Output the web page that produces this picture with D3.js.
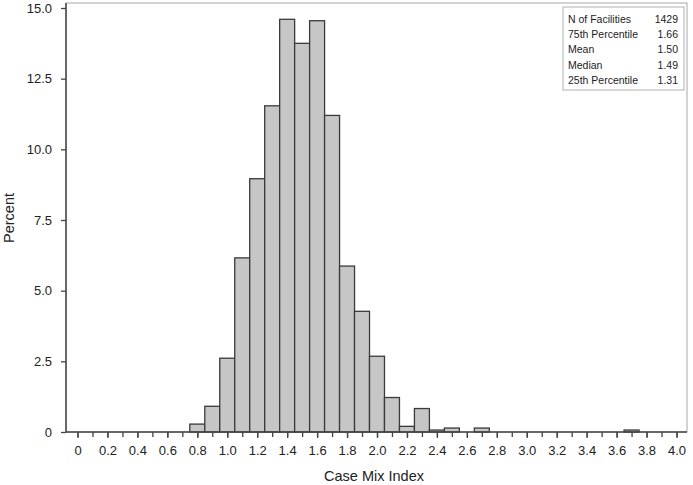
<!DOCTYPE html>
<html>
<head>
<meta charset="utf-8">
<script src="https://cdn.jsdelivr.net/npm/d3@7"></script>
<style>
  body { margin: 0; background: #fff; }
  svg { display: block; font-family: Arial, "Liberation Sans", sans-serif; }
</style>
</head>
<body>
<div id="chart"></div>
<script>
// Histogram of case mix index: bin midpoints (width 0.1) and percent of facilities
var binMids = [0.8, 0.9, 1.0, 1.1, 1.2, 1.3, 1.4, 1.5, 1.6, 1.7, 1.8, 1.9, 2.0, 2.1, 2.2, 2.3, 2.4, 2.5, 2.7, 3.7];
var percents = [0.28, 0.91, 2.61, 6.16, 8.96, 11.54, 14.6, 13.75, 14.55, 11.2, 5.87, 4.27, 2.68, 1.22, 0.2, 0.83, 0.07, 0.14, 0.14, 0.07];
var binWidth = 0.1;

var xTicks = d3.range(0, 41, 2).map(function(d) { return d / 10; });
var xMinorTicks = d3.range(0, 41, 1).map(function(d) { return d / 10; });
var yTicks = [0, 2.5, 5, 7.5, 10, 12.5, 15];

var statLabels = ['N of Facilities', '75th Percentile', 'Mean', 'Median', '25th Percentile'];
var statValues = ['1429', '1.66', '1.50', '1.49', '1.31'];

var width = 693, height = 485;
var frame = { left: 66, top: 3, right: 687, bottom: 432 };

var svg = d3.select('#chart').append('svg')
    .attr('width', width)
    .attr('height', height);

var x = d3.scaleLinear().domain([0, 4]).range([77.5, 676.5]);
var y = d3.scaleLinear().domain([0, 15]).range([frame.bottom, 8]);

// Frame (light on top/right)
svg.append('rect')
    .attr('x', frame.left)
    .attr('y', frame.top)
    .attr('width', frame.right - frame.left)
    .attr('height', frame.bottom - frame.top)
    .attr('fill', 'none')
    .attr('stroke', '#a8a8a8')
    .attr('stroke-width', 1);

// Bars
svg.append('g')
    .selectAll('rect')
    .data(binMids)
    .enter()
    .append('rect')
    .attr('x', function(d) { return x(d - binWidth / 2); })
    .attr('width', function(d) { return x(d + binWidth / 2) - x(d - binWidth / 2); })
    .attr('y', function(d, i) { return y(percents[i]); })
    .attr('height', function(d, i) { return y(0) - y(percents[i]); })
    .attr('fill', '#c6c6c6')
    .attr('stroke', '#3a3a3a')
    .attr('stroke-width', 1.3);

// Y axis
var yAxis = d3.axisLeft(y)
    .tickValues(yTicks)
    .tickSize(5)
    .tickPadding(9)
    .tickFormat(function(d) { return d === 0 ? '0' : d3.format('.1f')(d); });

var yg = svg.append('g')
    .attr('transform', 'translate(' + frame.left + ',0)')
    .call(yAxis);
yg.select('.domain').remove();
yg.append('line')
    .attr('x1', 0).attr('x2', 0)
    .attr('y1', frame.top).attr('y2', frame.bottom)
    .attr('stroke', '#444').attr('stroke-width', 1.5);

// X axis (minor ticks every 0.1, labels every 0.2)
var xMinor = svg.append('g')
    .attr('transform', 'translate(0,' + frame.bottom + ')')
    .call(d3.axisBottom(x).tickValues(xMinorTicks).tickSize(5).tickFormat(''));
xMinor.select('.domain').remove();

var xAxis = d3.axisBottom(x)
    .tickValues(xTicks)
    .tickSize(6)
    .tickPadding(8)
    .tickFormat(function(d) { return d === 0 ? '0' : d3.format('.1f')(d); });

var xg = svg.append('g')
    .attr('transform', 'translate(0,' + frame.bottom + ')')
    .call(xAxis);
xg.select('.domain').remove();
xg.append('line')
    .attr('x1', frame.left).attr('x2', frame.right)
    .attr('y1', 0).attr('y2', 0)
    .attr('stroke', '#444').attr('stroke-width', 1.5);

svg.selectAll('.tick line').attr('stroke', '#444').attr('stroke-width', 1.3);
svg.selectAll('.tick text')
    .attr('fill', '#222')
    .style('font-size', '13px')
    .style('font-family', 'Arial, "Liberation Sans", sans-serif');

// Axis titles
svg.append('text')
    .attr('x', 374)
    .attr('y', 481)
    .attr('text-anchor', 'middle')
    .attr('fill', '#222')
    .style('font-size', '14.5px')
    .text('Case Mix Index');

svg.append('text')
    .attr('transform', 'translate(14,218) rotate(-90)')
    .attr('text-anchor', 'middle')
    .attr('fill', '#222')
    .style('font-size', '14.5px')
    .text('Percent');

// Stats inset box
var box = svg.append('g');
box.append('rect')
    .attr('x', 563)
    .attr('y', 7)
    .attr('width', 121)
    .attr('height', 83)
    .attr('fill', '#fff')
    .attr('stroke', '#b0b0b0')
    .attr('stroke-width', 1);

statLabels.forEach(function(label, i) {
    var rowY = 23 + i * 15.2;
    box.append('text')
        .attr('x', 568)
        .attr('y', rowY)
        .attr('fill', '#222')
        .style('font-size', '10.5px')
        .text(label);
    box.append('text')
        .attr('x', 678)
        .attr('y', rowY)
        .attr('text-anchor', 'end')
        .attr('fill', '#222')
        .style('font-size', '10.5px')
        .text(statValues[i]);
});
</script>
</body>
</html>
